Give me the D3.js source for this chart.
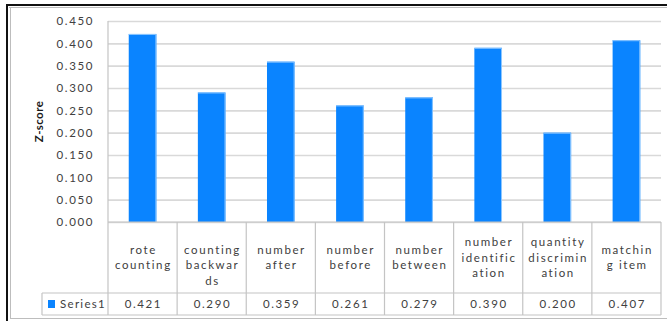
<!DOCTYPE html>
<html>
<head>
<meta charset="utf-8">
<script src="https://cdn.jsdelivr.net/npm/d3@7"></script>
<style>
  html, body { margin: 0; padding: 0; background: #fff; }
  svg { display: block; }
  text { font-family: Lato, "Open Sans", sans-serif; fill: #404040; }
</style>
</head>
<body>
<svg id="chart" width="667" height="321"></svg>
<script>
// Category labels, already wrapped into the lines shown in the data table
const categories = [
  ["rote", "counting"],
  ["counting", "backwar", "ds"],
  ["number", "after"],
  ["number", "before"],
  ["number", "between"],
  ["number", "identific", "ation"],
  ["quantity", "discrimin", "ation"],
  ["matchin", "g item"]
];
const seriesName = "Series1";
const values = [0.421, 0.290, 0.359, 0.261, 0.279, 0.390, 0.200, 0.407];
const yTicks = [0, 0.05, 0.1, 0.15, 0.2, 0.25, 0.3, 0.35, 0.4, 0.45];
const yTitle = "Z-score";

const svg = d3.select("#chart");
const W = 667, H = 321;

const plot = { left: 108, right: 661, top: 21, bottom: 222 };
const table = { catBottom: 293, valBottom: 315, legendLeft: 42 };

const keys = categories.map((d, i) => i);
const x = d3.scaleBand().domain(keys).range([plot.left, plot.right])
  .paddingInner(0.6).paddingOuter(0.3);
const y = d3.scaleLinear().domain([0, 0.45]).range([plot.bottom, plot.top]);
const step = x.step();
const barColor = "#0a84ff";
const lineColor = "#c4c4c4";

// outer frame
const frame = svg.append("g");
frame.append("line").attr("x1", 7).attr("x2", 7).attr("y1", 4).attr("y2", H)
  .attr("stroke", "#111").attr("stroke-width", 2);
frame.append("line").attr("x1", 6).attr("x2", W).attr("y1", 5).attr("y2", 5)
  .attr("stroke", "#111").attr("stroke-width", 2);
frame.append("line").attr("x1", 9).attr("x2", W).attr("y1", 7.5).attr("y2", 7.5)
  .attr("stroke", "#bdbdbd").attr("stroke-width", 1);
frame.append("line").attr("x1", 10.5).attr("x2", 10.5).attr("y1", 7).attr("y2", 318)
  .attr("stroke", "#bdbdbd").attr("stroke-width", 1);
frame.append("line").attr("x1", 10).attr("x2", W).attr("y1", 318.5).attr("y2", 318.5)
  .attr("stroke", "#bdbdbd").attr("stroke-width", 1);

// gridlines
const yAxis = d3.axisLeft(y).tickValues(yTicks).tickFormat(d3.format(".3f"))
  .tickSize(-(plot.right - plot.left)).tickPadding(14);
const gy = svg.append("g").attr("transform", `translate(${plot.left},0)`).call(yAxis);
gy.select(".domain").remove();
gy.selectAll(".tick line").attr("stroke", "#d9d9d9").attr("stroke-width", 1.6);
gy.selectAll(".tick text")
  .attr("font-size", 11.5).attr("letter-spacing", "1.6px").attr("fill", "#404040")
  .style("font-family", "Lato, sans-serif");

// bars
const bars = svg.append("g");
bars.selectAll("rect").data(values).join("rect")
  .attr("x", (d, i) => x(i))
  .attr("y", d => y(d))
  .attr("width", x.bandwidth())
  .attr("height", d => y(0) - y(d))
  .attr("fill", barColor);
// light edge along the top and right of each bar
bars.selectAll("path").data(values).join("path")
  .attr("d", (d, i) => `M${x(i)},${y(d) + 0.5}H${x(i) + x.bandwidth() - 0.5}V${y(0)}`)
  .attr("fill", "none").attr("stroke", "#8cc6ff").attr("stroke-width", 1);

// axis title
svg.append("text")
  .attr("transform", `translate(43,${(plot.top + plot.bottom) / 2}) rotate(-90)`)
  .attr("text-anchor", "middle")
  .attr("font-size", 11.5).attr("font-weight", "bold").attr("letter-spacing", "0.4px")
  .style("fill", "#1a1a1a")
  .text(yTitle);

// data table
const tg = svg.append("g").attr("stroke", lineColor).attr("stroke-width", 1.2);
tg.append("line").attr("x1", plot.left).attr("x2", plot.right)
  .attr("y1", plot.bottom).attr("y2", plot.bottom);
tg.append("line").attr("x1", table.legendLeft).attr("x2", plot.right)
  .attr("y1", table.catBottom).attr("y2", table.catBottom);
tg.append("line").attr("x1", table.legendLeft).attr("x2", plot.right)
  .attr("y1", table.valBottom).attr("y2", table.valBottom);
tg.append("line").attr("x1", table.legendLeft).attr("x2", table.legendLeft)
  .attr("y1", table.catBottom).attr("y2", table.valBottom);
tg.append("line").attr("x1", plot.left).attr("x2", plot.left)
  .attr("y1", plot.top).attr("y2", table.valBottom);
tg.selectAll("line.col").data(keys).join("line").attr("class", "col")
  .attr("x1", i => x(i) - x.paddingOuter() * step + step)
  .attr("x2", i => x(i) - x.paddingOuter() * step + step)
  .attr("y1", plot.bottom).attr("y2", table.valBottom);

// category labels; a word broken past the cell width keeps the block
// placed as if it had one line fewer
const lineH = 15.5;
const catMid = (plot.bottom + table.catBottom) / 2;
const spill = new Set([1]);
const cg = svg.append("g");
categories.forEach((lines, i) => {
  const cx = x(i) + x.bandwidth() / 2;
  const n = spill.has(i) ? lines.length - 1 : lines.length;
  const y0 = catMid - (n - 1) * lineH / 2;
  lines.forEach((t, k) => {
    cg.append("text")
      .attr("x", cx + 0.8).attr("y", y0 + k * lineH)
      .attr("dy", "0.35em").attr("text-anchor", "middle")
      .attr("font-size", 11.5).attr("letter-spacing", "1.6px")
      .text(t);
  });
});

// value row
const valMid = (table.catBottom + table.valBottom) / 2;
svg.append("g").selectAll("text").data(values).join("text")
  .attr("x", (d, i) => x(i) + x.bandwidth() / 2 + 0.8)
  .attr("y", valMid).attr("dy", "0.35em").attr("text-anchor", "middle")
  .attr("font-size", 11.5).attr("letter-spacing", "1.6px")
  .text(d => d3.format(".3f")(d));

// legend key
svg.append("rect").attr("x", 48).attr("y", valMid - 4).attr("width", 7).attr("height", 8)
  .attr("fill", barColor);
svg.append("text").attr("x", 60).attr("y", valMid).attr("dy", "0.35em")
  .attr("font-size", 11.5).attr("letter-spacing", "1.3px")
  .text(seriesName);
</script>
</body>
</html>
